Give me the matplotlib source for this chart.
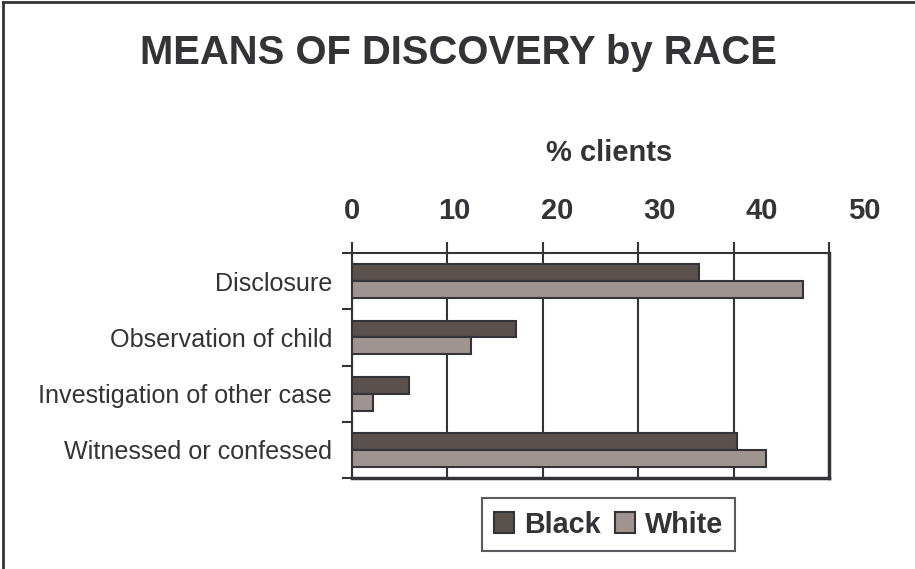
import matplotlib
matplotlib.use("Agg")
import matplotlib.pyplot as plt
import numpy as np
from matplotlib.lines import Line2D
from matplotlib.ticker import FixedLocator

plt.rcParams['font.family'] = ['Liberation Sans', 'DejaVu Sans']

# données
categories = ['Disclosure', 'Observation of child', 'Investigation of other case', 'Witnessed or confessed']
black = [36.4, 17.2, 6.0, 40.4]
white = [47.3, 12.5, 2.2, 43.4]
xticks = [0, 10, 20, 30, 40, 50]

ink = '#333338'
c_black = '#5a504c'
c_white = '#a09490'

fig = plt.figure(figsize=(9.15, 5.69), dpi=100)
ax = fig.add_axes([352 / 915, 1 - 478 / 569, 477 / 915, 225 / 569])

y = np.arange(len(categories))
h = 0.3
ax.barh(y - h / 2, black, height=h, color=c_black, edgecolor=ink, linewidth=1.5, label='Black', zorder=3)
ax.barh(y + h / 2, white, height=h, color=c_white, edgecolor=ink, linewidth=1.5, label='White', zorder=3)

ax.set_xlim(0, 50)
ax.set_ylim(len(categories) - 0.5, -0.5)

# axe des x en haut (graduations seulement, les étiquettes sont un peu décalées dans l'original)
ax.xaxis.tick_top()
ax.set_xticks(xticks)
ax.set_xticklabels([])
ax.tick_params(axis='x', direction='out', length=8, width=1.5, color=ink)
ax.grid(axis='x', color=ink, linewidth=1.5, zorder=0)

# étiquettes de l'axe x sur une échelle légèrement plus large
lab = fig.add_axes([351.7 / 915, 1 - 478 / 569, 512.5 / 915, 225 / 569])
lab.set_xlim(0, 50)
lab.patch.set_visible(False)
for s in lab.spines.values():
    s.set_visible(False)
lab.xaxis.tick_top()
lab.set_xticks(xticks)
lab.set_xticklabels([str(t) for t in xticks], fontsize=21, fontweight='bold', color=ink)
lab.tick_params(axis='x', length=0, pad=20)
lab.set_yticks([])

# catégories : graduations aux limites, étiquettes au centre
ax.yaxis.set_major_locator(FixedLocator(np.arange(-0.5, len(categories), 1.0)))
ax.set_yticklabels([])
ax.yaxis.set_minor_locator(FixedLocator(y))
ax.set_yticklabels(categories, minor=True, fontsize=18.1, color=ink)
ax.tick_params(axis='y', which='major', direction='out', length=7, width=1.5, color=ink)
ax.tick_params(axis='y', which='minor', length=0, pad=14.4)

for s in ax.spines.values():
    s.set_color(ink)
    s.set_linewidth(1.5)
ax.spines['right'].set_linewidth(2.5)
ax.spines['bottom'].set_linewidth(2.5)

fig.text(0.5006, 0.907, 'MEANS OF DISCOVERY by RACE', ha='center', va='center',
         fontsize=28.8, fontweight='bold', color=ink)
fig.text(0.6656, 1 - 153 / 569, '% clients', ha='center', va='center',
         fontsize=21, fontweight='bold', color=ink)

leg = fig.legend(loc='center', bbox_to_anchor=(0.665, 0.0782), ncol=2,
                 prop={'weight': 'bold', 'size': 20.7}, frameon=True, fancybox=False,
                 handlelength=0.7, handleheight=0.7, handletextpad=0.35, columnspacing=0.5,
                 borderpad=0.42, borderaxespad=0)
leg.get_frame().set_edgecolor(ink)
leg.get_frame().set_linewidth(1.5)
for t in leg.get_texts():
    t.set_color(ink)

# cadre partiel (haut et gauche)
fig.add_artist(Line2D([0.003, 0.003], [0, 0.997], transform=fig.transFigure, color=ink, lw=2))
fig.add_artist(Line2D([0.003, 1], [0.997, 0.997], transform=fig.transFigure, color=ink, lw=2))

fig.savefig('out.png', dpi=100)
